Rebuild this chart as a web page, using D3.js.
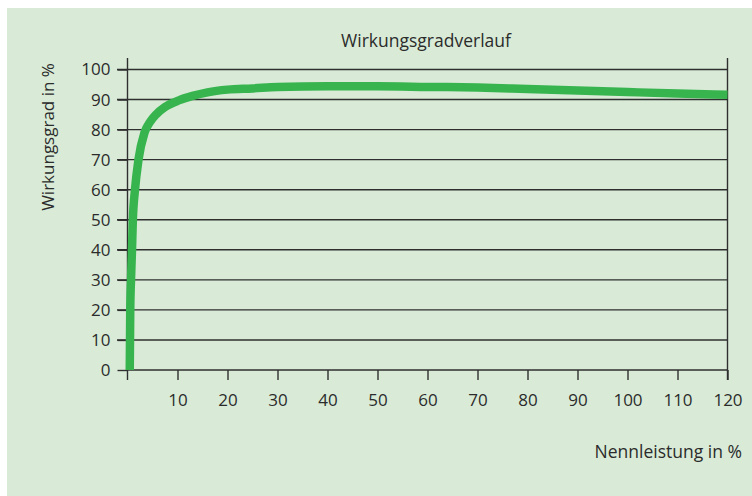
<!DOCTYPE html>
<html>
<head>
<meta charset="utf-8">
<script src="https://cdn.jsdelivr.net/npm/d3@7"></script>
<style>
  html, body { margin: 0; padding: 0; background: #ffffff; }
  svg { display: block; }
  text { font-family: "Open Sans", "Noto Sans", sans-serif; fill: #2b2b2b; }
</style>
</head>
<body>
<svg id="chart" width="752" height="496"></svg>
<script>
// Data
const loadPercent = [0.45, 0.55, 0.7, 0.9, 1.07, 1.5, 2.2, 3.4, 4.5, 5.7, 7.5, 10.4, 13, 16, 20, 25, 30, 40, 50, 60, 70, 80, 90, 100, 110, 120];
const efficiency  = [0, 20, 30, 40, 50, 60, 70, 79, 82.5, 85, 87.5, 89.8, 91.2, 92.4, 93.3, 93.7, 94.2, 94.4, 94.4, 94.2, 94, 93.5, 93, 92.5, 92, 91.6];
const xTicks = [10, 20, 30, 40, 50, 60, 70, 80, 90, 100, 110, 120];
const yTicks = [0, 10, 20, 30, 40, 50, 60, 70, 80, 90, 100];
const title = "Wirkungsgradverlauf";
const xLabel = "Nennleistung in %";
const yLabel = "Wirkungsgrad in %";

const svg = d3.select("#chart");

// background panel
svg.append("rect").attr("x", 7).attr("y", 8).attr("width", 745).attr("height", 488).attr("fill", "#d9ebd7");

const x = d3.scaleLinear().domain([0, 120]).range([127.5, 727.5]);
const y = d3.scaleLinear().domain([0, 100]).range([370, 69.5]);

// gridlines (horizontal)
svg.append("g").selectAll("line").data(yTicks.filter(d => d > 0)).join("line")
  .attr("x1", 117).attr("x2", x(120))
  .attr("y1", d => y(d)).attr("y2", d => y(d))
  .attr("stroke", "#2f2f2f").attr("stroke-width", 1.4);

// y-axis
const yAxis = svg.append("g").attr("transform", `translate(${x(0)},0)`)
  .call(d3.axisLeft(y).tickValues(yTicks).tickSize(10).tickPadding(7));
yAxis.select(".domain").remove();
yAxis.selectAll(".tick line").attr("stroke", "#2f2f2f").attr("stroke-width", 1.4);
yAxis.selectAll(".tick text").attr("font-size", 17).attr("fill", "#2b2b2b")
  .attr("font-family", "'Open Sans', sans-serif");

// x-axis
const xAxis = svg.append("g").attr("transform", `translate(0,${y(0)})`)
  .call(d3.axisBottom(x).tickValues(xTicks).tickSize(10).tickPadding(14));
xAxis.select(".domain").remove();
xAxis.selectAll(".tick line").attr("stroke", "#2f2f2f").attr("stroke-width", 1.4);
xAxis.selectAll(".tick text").attr("font-size", 17).attr("fill", "#2b2b2b")
  .attr("font-family", "'Open Sans', sans-serif");

// axis lines
svg.append("line").attr("x1", x(0)).attr("x2", x(120)).attr("y1", y(0)).attr("y2", y(0))
  .attr("stroke", "#2f2f2f").attr("stroke-width", 1.6);
svg.append("line").attr("x1", x(0)).attr("x2", x(0)).attr("y1", 58).attr("y2", y(0) + 10)
  .attr("stroke", "#2f2f2f").attr("stroke-width", 1.4);
svg.append("line").attr("x1", x(120)).attr("x2", x(120)).attr("y1", 58).attr("y2", y(0) + 10)
  .attr("stroke", "#2f2f2f").attr("stroke-width", 1.4);

// curve
const line = d3.line().x((d, i) => x(loadPercent[i])).y(d => y(d)).curve(d3.curveMonotoneX);
svg.append("path").datum(efficiency)
  .attr("d", line).attr("fill", "none")
  .attr("stroke", "#38b44f").attr("stroke-width", 8.5).attr("stroke-linejoin", "round");

// title & labels
svg.append("text").attr("x", 426).attr("y", 47).attr("text-anchor", "middle")
  .attr("font-size", 17.5).text(title);
svg.append("text").attr("x", 742).attr("y", 458).attr("text-anchor", "end")
  .attr("font-size", 17.5).text(xLabel);
svg.append("text").attr("transform", "translate(54,137) rotate(-90)").attr("text-anchor", "middle")
  .attr("font-size", 17).text(yLabel);
</script>
</body>
</html>
